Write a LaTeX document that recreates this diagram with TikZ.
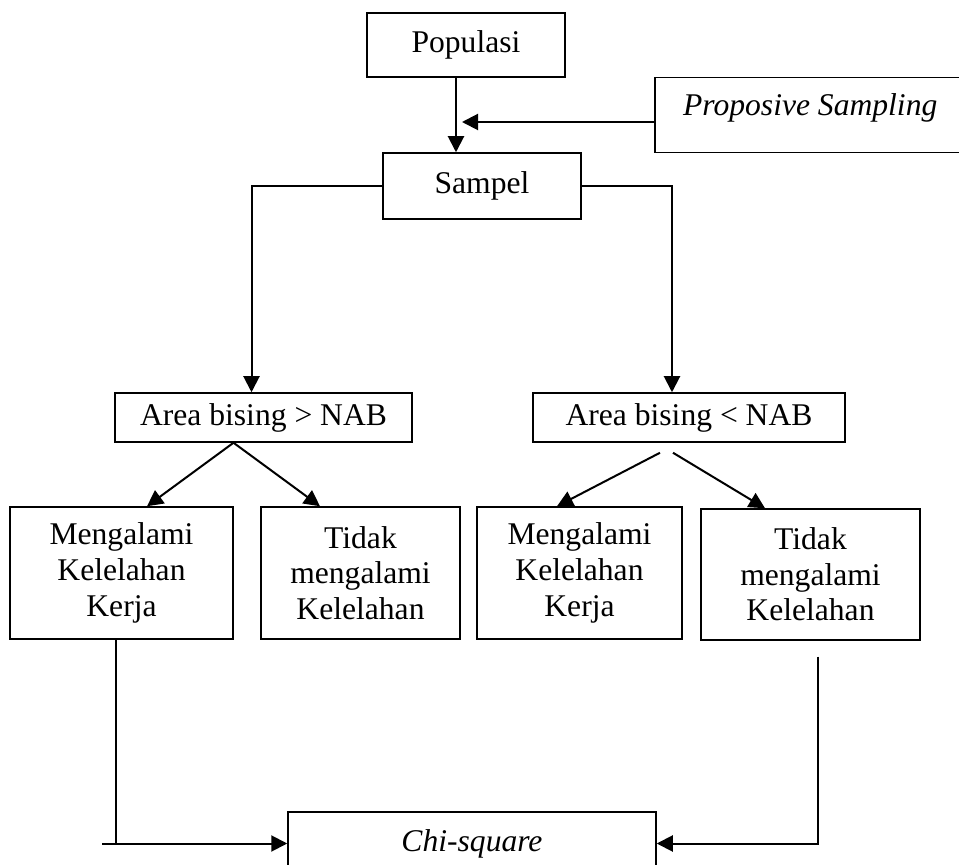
\documentclass[tikz,border=0pt]{standalone}
\usepackage{fontspec}
\setmainfont{Liberation Serif}
\usetikzlibrary{arrows.meta}
\begin{document}
\begin{tikzpicture}[x=0.5pt, y=-0.5pt,
    box/.style={draw, line width=0.75pt, inner sep=0pt, align=center,
      font=\fontsize{15.8}{17.8}\selectfont},
    arr/.style={line width=1pt, -{Triangle[length=8pt, width=8pt]}}]
  \useasboundingbox (0,0) rectangle (959,865);
  \node[box, minimum width=99pt, minimum height=32pt] (pop) at (466,45) {Populasi};
  \node[box, anchor=north west, minimum width=155.5pt, text height=19pt, text depth=18.5pt]
    (prop) at (654,77) {\textit{Proposive Sampling}};
  \node[box, minimum width=99pt, minimum height=33pt] (sam) at (482,186) {Sampel};
  \node[box, minimum width=148.5pt, minimum height=24.5pt] (big) at (263.5,417.5) {Area bising > NAB};
  \node[box, minimum width=156pt, minimum height=24.5pt] (small) at (689,417.5) {Area bising < NAB};
  \node[box, minimum width=111.5pt, minimum height=66pt] (m1) at (121.5,573) {Mengalami\\Kelelahan\\Kerja};
  \node[box, minimum width=99.5pt, minimum height=66pt] (t1) at (360.5,573) {Tidak\\mengalami\\Kelelahan};
  \node[box, minimum width=102.5pt, minimum height=66pt] (m2) at (579.5,573) {Mengalami\\Kelelahan\\Kerja};
  \node[box, minimum width=109.5pt, minimum height=65.5pt] (t2) at (810.5,574.5) {Tidak\\mengalami\\Kelelahan};
  \node[box, minimum width=184pt, minimum height=31.5pt] (chi) at (472,843.5) {\textit{Chi-square}};
  \coordinate (pm) at (456,100);
  \coordinate (pj) at (462,122);
  \coordinate (stub) at (102,843.5);
  \draw[arr] (pop.south -| pm) -- (sam.north -| pm);
  \draw[arr] (prop.west |- pj) -- (pj);
  \draw[arr] (sam.west) -| ([xshift=-6pt]big.north);
  \draw[arr] (sam.east) -| ([xshift=-8.5pt]small.north);
  \draw[arr] ([xshift=-15pt]big.south) -- ([xshift=12.75pt]m1.north);
  \draw[arr] ([xshift=-15pt]big.south) -- ([xshift=-20.25pt]t1.north);
  \draw[arr] ([xshift=-14.5pt,yshift=-5pt]small.south) -- ([xshift=-11.25pt]m2.north);
  \draw[arr] ([xshift=-8pt,yshift=-5pt]small.south) -- ([xshift=-22.75pt]t2.north);
  \draw[line width=1pt] ([xshift=-2.75pt]m1.south) -- ([xshift=-2.75pt]m1.south |- chi.west);
  \draw[arr] (stub) -- (chi.west);
  \draw[arr] ([xshift=3.75pt,yshift=-8pt]t2.south) |- (chi.east);
\end{tikzpicture}
\end{document}
